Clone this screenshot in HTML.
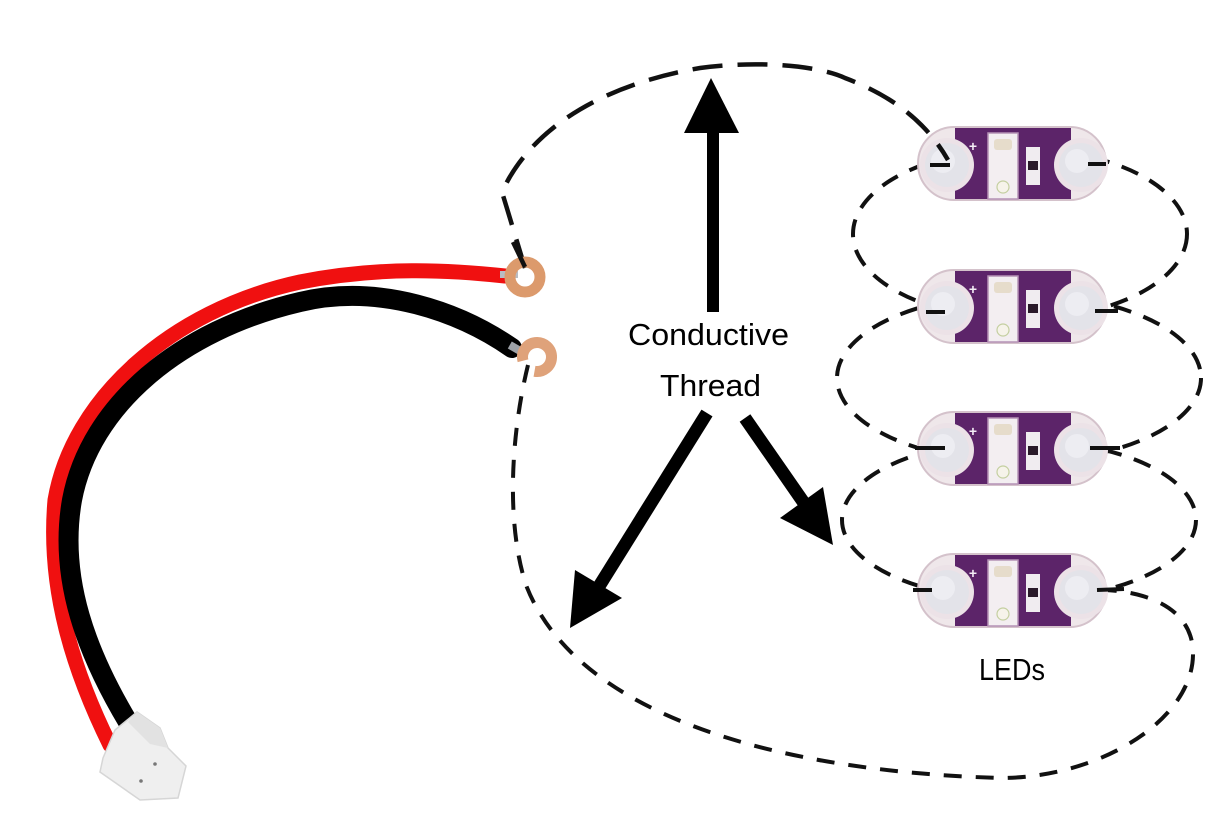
<!DOCTYPE html>
<html>
<head>
<meta charset="utf-8">
<style>
html,body{margin:0;padding:0;background:#fff;}
svg{display:block;}
</style>
</head>
<body>
<svg width="1214" height="815" viewBox="0 0 1214 815" xmlns="http://www.w3.org/2000/svg">
<defs>
  <g id="led">
    <path d="M36 2 H152 A36 36.5 0 0 1 152 75 H36 A36 36.5 0 0 1 36 2 Z" fill="#efe7ea" stroke="#d4c2cb" stroke-width="2"/>
    <rect x="37" y="3" width="116" height="71" fill="#5c2469"/>
    <circle cx="29" cy="40" r="27" fill="#ece2e7"/>
    <circle cx="163" cy="40" r="27" fill="#ece2e7"/>
    <circle cx="29" cy="40" r="22" fill="#e3e3e9"/>
    <circle cx="163" cy="40" r="22" fill="#e3e3e9"/>
    <circle cx="25" cy="36" r="12" fill="#ededf2"/>
    <circle cx="159" cy="36" r="12" fill="#ededf2"/>
    <rect x="70" y="8" width="30" height="66" fill="#f3eef1" stroke="#b592b6" stroke-width="1.5"/>
    <rect x="76" y="14" width="18" height="11" rx="3" fill="#e6dccb"/>
    <circle cx="85" cy="62" r="6" fill="#f6f3ea" stroke="#c4cfa0" stroke-width="1.2"/>
    <rect x="108" y="22" width="14" height="38" fill="#f0ecf0"/>
    <rect x="110" y="36" width="10" height="9" fill="#2a1a2a"/>
    <text x="55" y="26" font-family="Liberation Sans, sans-serif" font-size="14" font-weight="bold" fill="#f4eef6" text-anchor="middle">+</text>
  </g>
</defs>

<!-- dashed loops between LEDs (behind LEDs) -->
<g fill="none" stroke="#111" stroke-width="4" stroke-dasharray="18 13">
  <ellipse cx="1020" cy="234" rx="167" ry="85"/>
  <ellipse cx="1019" cy="378" rx="182" ry="84"/>
  <ellipse cx="1019" cy="520" rx="177" ry="80"/>
</g>

<!-- bottom big loop -->
<path d="M528 365 C512 430, 505 520, 526 585 C570 700, 740 770, 1000 778 C1100 778, 1192 720, 1193 655 C1194 610, 1150 592, 1105 590"
      fill="none" stroke="#111" stroke-width="4" stroke-dasharray="18 14"/>

<!-- LEDs -->
<use href="#led" x="918" y="125"/>
<use href="#led" x="918" y="268"/>
<use href="#led" x="918" y="410"/>
<use href="#led" x="918" y="552"/>

<!-- pad dashes -->
<g stroke="#111" stroke-width="4">
  <line x1="930" y1="165" x2="950" y2="165"/>
  <line x1="1088" y1="164" x2="1106" y2="164"/>
  <line x1="926" y1="312" x2="945" y2="312"/>
  <line x1="1095" y1="311" x2="1118" y2="311"/>
  <line x1="915" y1="448" x2="945" y2="448"/>
  <line x1="1090" y1="448" x2="1120" y2="448"/>
  <line x1="913" y1="590" x2="932" y2="590"/>
  <line x1="1097" y1="590" x2="1124" y2="589"/>
</g>

<!-- top loop -->
<path d="M525 268 L502 192 C530 130, 600 85, 700 68 C760 60, 820 66, 845 78 C890 95, 925 120, 948 160"
      fill="none" stroke="#111" stroke-width="4.5" stroke-dasharray="30 15"/>

<!-- wires -->
<path d="M110 745 C74 672, 47 590, 55 500 C72 400, 170 310, 300 282 C380 266, 450 270, 505 276"
      fill="none" stroke="#f01010" stroke-width="15" stroke-linecap="round"/>
<path d="M128 722 C88 655, 58 580, 72 500 C90 405, 180 330, 300 302 C380 283, 460 312, 512 348"
      fill="none" stroke="#000" stroke-width="20" stroke-linecap="round"/>
<!-- wire tips -->
<rect x="500" y="271" width="18" height="7" fill="#b9bcc2"/>
<rect x="509" y="344" width="13" height="8" fill="#9ea2a8" transform="rotate(30 515 348)"/>

<!-- rings -->
<circle cx="525" cy="277" r="15" fill="none" stroke="#dc9a6c" stroke-width="11"/>
<path d="M523 360.75 A14.5 14.5 0 1 1 534.5 371.3" fill="none" stroke="#dfa27a" stroke-width="11"/>
<line x1="513" y1="242" x2="525" y2="267" stroke="#111" stroke-width="4.5"/>

<!-- connector -->
<polygon points="103,758 115,730 137,712 160,728 168,748 186,766 178,798 140,800 100,772" fill="#efefef" stroke="#d6d6d6" stroke-width="1.5"/>
<polygon points="137,712 160,728 168,748 150,744 128,722" fill="#e2e2e2"/>
<circle cx="155" cy="764" r="1.8" fill="#777"/>
<circle cx="141" cy="781" r="1.8" fill="#777"/>

<!-- arrows -->
<rect x="707" y="128" width="12" height="184" fill="#000"/>
<polygon points="711,78 739,133 684,133" fill="#000"/>
<line x1="707" y1="413" x2="598" y2="588" stroke="#000" stroke-width="13"/>
<polygon points="570,628 575,570 622,598" fill="#000"/>
<line x1="745" y1="418" x2="804" y2="503" stroke="#000" stroke-width="13"/>
<polygon points="833,545 823,487 780,518" fill="#000"/>

<!-- labels -->
<g font-family="Liberation Sans, Arial, sans-serif" font-size="31" fill="#000">
  <text x="628" y="345" textLength="161" lengthAdjust="spacingAndGlyphs">Conductive</text>
  <text x="660" y="396" textLength="101" lengthAdjust="spacingAndGlyphs">Thread</text>
  <text x="979" y="680" textLength="66" lengthAdjust="spacingAndGlyphs">LEDs</text>
</g>
</svg>
</body>
</html>
